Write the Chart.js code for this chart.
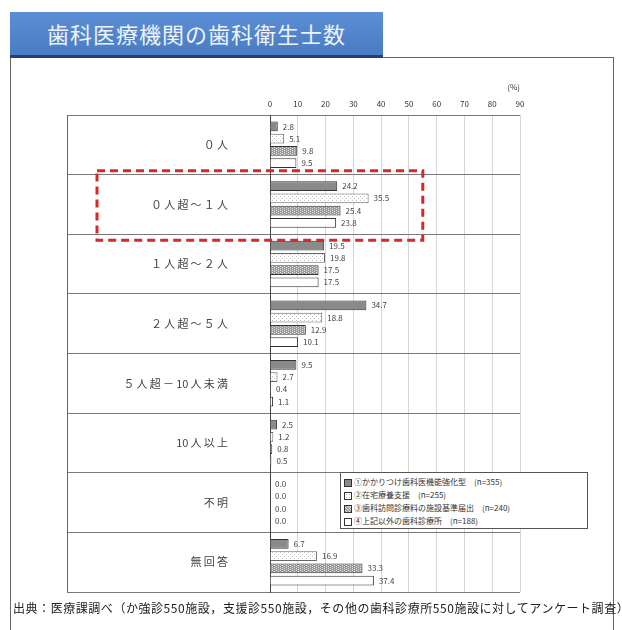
<!DOCTYPE html>
<html><head><meta charset="utf-8">
<script src="https://cdn.jsdelivr.net/npm/chart.js@4/dist/chart.umd.min.js"></script>
<style>
html,body{margin:0;padding:0;background:#fff;width:622px;height:630px;overflow:hidden;font-family:"Noto Sans CJK JP",sans-serif;}
#banner{position:absolute;left:10px;top:12px;width:373px;height:43px;background:linear-gradient(#5b8ed4,#4a7cc4);border-bottom:3px solid #23406e;color:#eef3fb;font-size:22px;line-height:43px;text-align:center;letter-spacing:1px;}
#frame{position:absolute;left:10px;top:57px;width:602px;height:600px;border:1px solid #666;}
#cv{position:absolute;left:0;top:0;}
#legend{position:absolute;left:340px;top:472px;width:248px;height:57px;border:1px solid #555;background:#fff;font-size:8px;color:#333;padding:2px 0 0 3px;box-sizing:border-box;}
#legend div{height:13px;line-height:13px;white-space:nowrap;}
#legend span.sw{display:inline-block;width:6px;height:6px;border:1px solid #333;margin-right:2px;vertical-align:middle;}
#source{position:absolute;left:13px;top:599px;font-size:12px;color:#222;white-space:nowrap;letter-spacing:0.55px;}
</style></head>
<body>
<div id="frame"></div>
<div id="banner">歯科医療機関の歯科衛生士数</div>
<canvas id="cv" width="622" height="630"></canvas>
<div id="legend"></div>
<div id="source">出典：医療課調べ（か強診550施設，支援診550施設，その他の歯科診療所550施設に対してアンケート調査）</div>
<script>
const categories = ['０人','０人超～１人','１人超～２人','２人超～５人','５人超－10人未満','10人以上','不明','無回答'];
const seriesLabels = ['①かかりつけ歯科医機能強化型　(n=355)','②在宅療養支援　(n=255)','③歯科訪問診療料の施設基準届出　(n=240)','④上記以外の歯科診療所　(n=188)'];
const series1 = [2.8, 24.2, 19.5, 34.7, 9.5, 2.5, 0.0, 6.7];
const series2 = [5.1, 35.5, 19.8, 18.8, 2.7, 1.2, 0.0, 16.9];
const series3 = [9.8, 25.4, 17.5, 12.9, 0.4, 0.8, 0.0, 33.3];
const series4 = [9.5, 23.8, 17.5, 10.1, 1.1, 0.5, 0.0, 37.4];
const xTicks = [0,10,20,30,40,50,60,70,80,90];
const highlightCategory = 1;
const highlightRight = 55;

function makePattern(bg, fg, cells, size){
  const c = document.createElement('canvas'); c.width = size; c.height = size;
  const g = c.getContext('2d'); g.fillStyle = bg; g.fillRect(0,0,size,size);
  g.fillStyle = fg; cells.forEach(([x,y])=>g.fillRect(x,y,1,1));
  return g.createPattern(c,'repeat');
}
const cvs = document.getElementById('cv');
const dotPat = makePattern('#ffffff','#c4c4c4',[[0,0],[2,2]],4);
const hatchPat = makePattern('#9a9a9a','#e2e2e2',[[0,0],[2,1],[0,2],[2,3]],4);

const fills = ['#8a8a8a', dotPat, hatchPat, '#ffffff'];
const legendCss = ['#8a8a8a','radial-gradient(#bbb 30%, #fff 31%) 0 0/3px 3px','repeating-linear-gradient(45deg,#9e9e9e 0 1px,#e0e0e0 1px 2px)','#fff'];
const allSeries = [series1, series2, series3, series4];

document.getElementById('legend').innerHTML = seriesLabels.map((l,i)=>
  `<div><span class="sw" style="background:${legendCss[i]}"></span>${l}</div>`).join('');

function spaced(s){
  let out = '';
  for (let i=0;i<s.length;i++){
    out += s[i];
    if (i < s.length-1 && !(/[0-9]/.test(s[i]) && /[0-9]/.test(s[i+1]))) out += '\u2009';
  }
  return out;
}

const valueLabels = {
  id:'valueLabels',
  afterDatasetsDraw(chart){
    const c = chart.ctx; c.save();
    c.font = '8px "Noto Sans CJK JP", sans-serif'; c.fillStyle = '#444';
    c.textBaseline = 'middle'; c.textAlign = 'left';
    chart.data.datasets.forEach((ds,di)=>{
      chart.getDatasetMeta(di).data.forEach((el,i)=>{
        c.fillText(ds.data[i].toFixed(1), el.x + 5, el.y);
      });
    });
    c.restore();
  }
};
const decor = {
  id:'decor',
  afterDraw(chart){
    const c = chart.ctx, y = chart.scales.y, x = chart.scales.x;
    c.save();
    c.strokeStyle = '#666'; c.lineWidth = 1;
    c.beginPath(); c.moveTo(y.left+0.5, y.top); c.lineTo(y.left+0.5, y.bottom); c.stroke();
    const step = (y.bottom - y.top)/categories.length;
    const cy = y.getPixelForValue(highlightCategory);
    const top = cy - step/2 - 4, bot = cy + step/2 + 6;
    const left = y.left + 30, right = x.getPixelForValue(highlightRight);
    c.strokeStyle = '#d42a2a'; c.lineWidth = 3; c.setLineDash([8,5]);
    c.strokeRect(left, top, right-left, bot-top);
    c.restore();
  }
};

Chart.defaults.font.family = '"Noto Sans CJK JP", sans-serif';
new Chart(cvs, {
  type:'bar',
  data:{
    labels: categories,
    datasets: allSeries.map((d,i)=>({
      label: seriesLabels[i], data: d, backgroundColor: fills[i],
      borderColor: i===1 ? '#666' : '#333', borderWidth: 1,
      categoryPercentage: 0.82, barPercentage: 0.8
    }))
  },
  options:{
    indexAxis:'y', responsive:false, animation:false,
    layout:{padding:{left:67, right:102, top:80, bottom:38}},
    plugins:{legend:{display:false}, tooltip:{enabled:false}},
    scales:{
      x:{
        position:'top', min:0, max:90,
        afterBuildTicks(s){ s.ticks = xTicks.map(v=>({value:v})); },
        afterFit(s){ s.height = 35; },
        grid:{color:'#d6d6d6', drawTicks:false},
        border:{display:false},
        ticks:{font:{size:8}, color:'#333', padding:6},
        title:{display:true, text:'(%)', align:'end', font:{size:8}, color:'#333', padding:{top:2,bottom:0}}
      },
      y:{
        afterFit(s){ s.width = 203; },
        grid:{color:'#7a7a7a', tickLength:203, offset:true},
        border:{display:true, color:'#444'},
        ticks:{padding:-161, font:{size:11}, color:'#444',
          callback(v){ return spaced(this.getLabelForValue(v)); }}
      }
    }
  },
  plugins:[valueLabels, decor]
});
</script>
</body></html>
